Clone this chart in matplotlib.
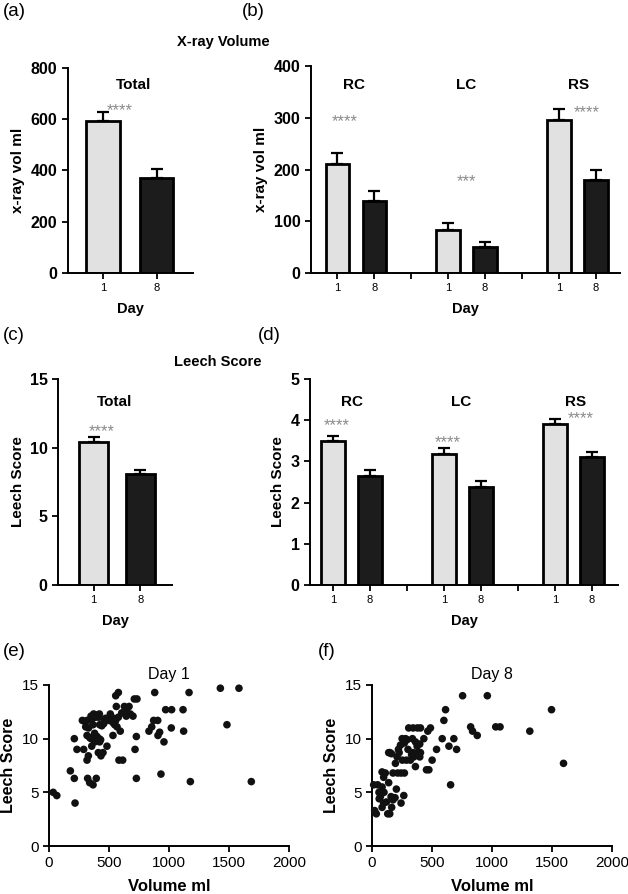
import numpy as np
import matplotlib
matplotlib.use('Agg')
from matplotlib import pyplot as plt

plt.rcParams['font.family'] = ['Liberation Sans', 'DejaVu Sans']

# ---- data ----
days = ['1', '8']

xray_total = [592, 371]
xray_total_err = [36, 36]

regions = ['RC', 'LC', 'RS']
xray_day1 = [211, 84, 296]
xray_day1_err = [20, 12, 21]
xray_day8 = [140, 51, 180]
xray_day8_err = [18, 8, 19]

leech_total = [10.44, 8.08]
leech_total_err = [0.36, 0.3]

leech_day1 = [3.50, 3.18, 3.90]
leech_day1_err = [0.12, 0.15, 0.12]
leech_day8 = [2.65, 2.39, 3.11]
leech_day8_err = [0.14, 0.13, 0.12]

vol_day1 = [35, 65, 178, 211, 217, 211, 233, 278, 317, 306, 353, 372, 394, 417,
            317, 339, 317, 328, 289, 322, 339, 367, 394, 356, 381, 400, 417, 422,
            411, 433, 450, 367, 422, 456, 472, 483, 500, 511, 533, 547, 533, 556,
            567, 578, 556, 578, 561, 594, 583, 614, 606, 628, 644, 667, 644, 678,
            700, 711, 733, 717, 728, 728, 881, 833, 856, 872, 906, 908, 922, 958,
            972, 1022, 1019, 933, 1117, 1122, 1167, 1178, 1428, 1583, 1483, 1686,
            300, 330, 350, 390, 420, 440, 460, 520, 540, 380, 430, 350]
score_day1 = [5.0, 4.7, 7.0, 6.3, 4.0, 10.0, 9.0, 11.7, 11.7, 11.1, 11.7, 12.3, 12.2, 12.0,
              10.3, 10.1, 8.0, 8.4, 9.0, 6.3, 5.9, 5.7, 6.3, 9.3, 9.7, 10.2, 10.0, 9.7,
              8.7, 8.4, 8.7, 11.3, 11.3, 11.4, 11.9, 9.3, 11.7, 12.3, 11.5, 11.3, 10.3, 11.7,
              11.1, 12.0, 14.0, 14.3, 13.0, 10.7, 8.0, 8.0, 12.4, 13.0, 12.7, 13.0, 12.1, 12.3,
              12.1, 13.7, 13.7, 9.0, 10.2, 6.3, 14.3, 10.7, 11.1, 11.7, 11.7, 10.3, 10.6, 9.7,
              12.7, 12.7, 11.0, 6.7, 12.7, 10.7, 14.3, 6.0, 14.7, 14.7, 11.3, 6.0,
              11.6, 11.0, 10.0, 12.0, 12.3, 11.2, 11.6, 11.8, 11.9, 10.5, 9.9, 12.1]

vol_day8 = [22, 36, 14, 47, 58, 70, 84, 84, 97, 111, 97, 120, 84, 139, 131, 148,
            159, 164, 175, 192, 203, 175, 139, 162, 195, 209, 226, 214, 242, 270,
            242, 265, 237, 251, 270, 292, 306, 343, 253, 287, 320, 343, 348, 337,
            362, 376, 362, 384, 398, 362, 379, 404, 398, 432, 404, 454, 474, 465,
            487, 501, 538, 585, 599, 613, 641, 655, 682, 705, 755, 822, 838, 877,
            961, 1031, 1067, 1315, 1496, 1596,
            150, 220, 100, 60, 300, 330, 280]
score_day8 = [3.3, 3.0, 5.7, 5.7, 5.0, 4.6, 5.5, 6.9, 6.4, 6.8, 4.0, 4.1, 3.6, 5.9, 3.0, 3.0,
              4.6, 3.6, 4.3, 4.5, 5.3, 6.8, 8.7, 8.6, 7.7, 8.3, 8.7, 6.8, 6.8, 6.8,
              4.0, 4.7, 9.4, 10.0, 9.6, 9.9, 11.0, 11.0, 8.0, 8.0, 8.0, 8.7, 8.3, 10.0,
              9.7, 9.3, 8.6, 8.7, 8.3, 7.4, 11.0, 8.7, 9.5, 10.0, 11.0, 7.1, 7.1, 10.7,
              11.0, 8.0, 9.0, 10.0, 11.7, 12.7, 9.3, 5.7, 10.0, 9.0, 14.0, 11.1, 10.7, 10.3,
              14.0, 11.1, 11.1, 10.7, 12.7, 7.7,
              8.7, 9.0, 5.0, 4.4, 9.0, 8.5, 10.0]

LIGHT = '#e1e1e1'
DARK = '#1c1c1c'
STAR = '#8a8a8a'

W, H = 628, 894
fig = plt.figure(figsize=(W / 100, H / 100), dpi=100)


def add_ax(left, top, right, bottom):
    return fig.add_axes([left / W, 1 - bottom / H, (right - left) / W, (bottom - top) / H])


def style(ax, bold_ticks=True):
    for s in ['top', 'right']:
        ax.spines[s].set_visible(False)
    for s in ['left', 'bottom']:
        ax.spines[s].set_linewidth(1.4)
    ax.tick_params(axis='both', direction='out', length=4, width=1.3)
    for lab in ax.get_yticklabels():
        lab.set_fontsize(11.5 if bold_ticks else 11)
        if bold_ticks:
            lab.set_fontweight('bold')


def draw_bars(ax, pos, vals, errs, color):
    ax.errorbar(pos, vals, yerr=[np.zeros(len(vals)), errs], fmt='none', ecolor='black',
                elinewidth=1.6, capsize=4, capthick=1.6, zorder=1)
    ax.bar(pos, vals, width=0.63, color=color, edgecolor='black', linewidth=2.0, zorder=2)


def day_xaxis(ax, ticks, labels):
    ax.set_xticks(ticks)
    ax.set_xticklabels(labels, fontsize=8)
    ax.set_xlabel('Day', fontsize=10.5, fontweight='bold', labelpad=6)


def stars(ax, x, y, s):
    ax.text(x, y, s, ha='center', va='center', fontsize=12, color=STAR)


# ---- (a) X-ray total ----
ax = add_ax(68, 68, 193, 273)
draw_bars(ax, [0], xray_total[:1], xray_total_err[:1], LIGHT)
draw_bars(ax, [1], xray_total[1:], xray_total_err[1:], DARK)
ax.set_xlim(-0.65, 1.68)
ax.set_ylim(0, 800)
ax.set_yticks([0, 200, 400, 600, 800])
day_xaxis(ax, [0, 1], days)
ax.set_ylabel('x-ray vol ml', fontsize=11, fontweight='bold', labelpad=4)
ax.text(0.57, 735, 'Total', ha='center', va='center', fontsize=11, fontweight='bold')
stars(ax, 0.32, 635, '****')
style(ax)

# ---- (b) X-ray by region ----
ax = add_ax(311, 66, 620, 273)
pos1 = [0, 3, 6]
pos8 = [1, 4, 7]
draw_bars(ax, pos1, xray_day1, xray_day1_err, LIGHT)
draw_bars(ax, pos8, xray_day8, xray_day8_err, DARK)
ax.set_xlim(-0.71, 7.65)
ax.set_ylim(0, 400)
ax.set_yticks([0, 100, 200, 300, 400])
day_xaxis(ax, range(8), ['1', '8', '', '1', '8', '', '1', '8'])
ax.set_ylabel('x-ray vol ml', fontsize=11, fontweight='bold', labelpad=4)
for x, name in zip([0.45, 3.48, 6.52], regions):
    ax.text(x, 364, name, ha='center', va='center', fontsize=11, fontweight='bold')
stars(ax, 0.21, 293, '****')
stars(ax, 3.5, 176, '***')
stars(ax, 6.75, 309, '****')
style(ax)

# ---- (c) Leech total ----
ax = add_ax(58, 379, 172, 585)
draw_bars(ax, [0], leech_total[:1], leech_total_err[:1], LIGHT)
draw_bars(ax, [1], leech_total[1:], leech_total_err[1:], DARK)
ax.set_xlim(-0.76, 1.68)
ax.set_ylim(0, 15)
ax.set_yticks([0, 5, 10, 15])
day_xaxis(ax, [0, 1], days)
ax.set_ylabel('Leech Score', fontsize=11, fontweight='bold', labelpad=3)
ax.text(0.46, 13.35, 'Total', ha='center', va='center', fontsize=11, fontweight='bold')
stars(ax, 0.17, 11.15, '****')
style(ax)

# ---- (d) Leech by region ----
ax = add_ax(310, 379, 618, 585)
draw_bars(ax, pos1, leech_day1, leech_day1_err, LIGHT)
draw_bars(ax, pos8, leech_day8, leech_day8_err, DARK)
ax.set_xlim(-0.62, 7.7)
ax.set_ylim(0, 5)
ax.set_yticks([0, 1, 2, 3, 4, 5])
day_xaxis(ax, range(8), ['1', '8', '', '1', '8', '', '1', '8'])
ax.set_ylabel('Leech Score', fontsize=11, fontweight='bold', labelpad=4)
for x, name in zip([0.52, 3.45, 6.56], regions):
    ax.text(x, 4.45, name, ha='center', va='center', fontsize=11, fontweight='bold')
stars(ax, 0.1, 3.86, '****')
stars(ax, 3.09, 3.46, '****')
stars(ax, 6.69, 4.03, '****')
style(ax)

# ---- (e), (f) scatter ----
for (l, r), vols, scores, title in [((49, 289), vol_day1, score_day1, 'Day 1'),
                                     ((372, 612), vol_day8, score_day8, 'Day 8')]:
    ax = add_ax(l, 685, r, 846)
    ax.scatter(vols, scores, s=30, color='#111111', edgecolors='none', zorder=3, clip_on=False)
    ax.set_xlim(0, 2000)
    ax.set_ylim(0, 15)
    ax.set_xticks([0, 500, 1000, 1500, 2000])
    ax.set_yticks([0, 5, 10, 15])
    ax.set_xlabel('Volume ml', fontsize=12, fontweight='bold', labelpad=6)
    ax.set_ylabel('Leech Score', fontsize=11.5, fontweight='bold', labelpad=4)
    ax.set_title(title, fontsize=11.5, pad=4)
    style(ax, bold_ticks=False)
    ax.tick_params(axis='x', labelsize=11)

# ---- section titles and panel letters ----
fig.text(223 / W, 1 - 42 / H, 'X-ray Volume', ha='center', va='center', fontsize=10.5, fontweight='bold')
fig.text(218 / W, 1 - 362 / H, 'Leech Score', ha='center', va='center', fontsize=10.5, fontweight='bold')
for x, y, lab in [(3, 12, '(a)'), (242, 12, '(b)'), (3, 335, '(c)'), (258, 335, '(d)'),
                  (3, 652, '(e)'), (318, 652, '(f)')]:
    fig.text(x / W, 1 - y / H, lab, ha='left', va='center', fontsize=13.5)

fig.savefig('out.png', dpi=100)
